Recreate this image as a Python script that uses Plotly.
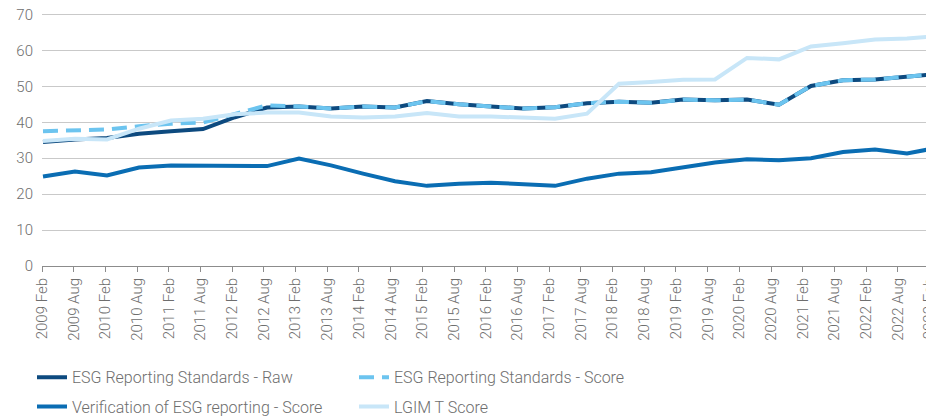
import plotly.graph_objects as go

periods = ["2009 Feb", "2009 Aug", "2010 Feb", "2010 Aug", "2011 Feb", "2011 Aug",
           "2012 Feb", "2012 Aug", "2013 Feb", "2013 Aug", "2014 Feb", "2014 Aug",
           "2015 Feb", "2015 Aug", "2016 Feb", "2016 Aug", "2017 Feb", "2017 Aug",
           "2018 Feb", "2018 Aug", "2019 Feb", "2019 Aug", "2020 Feb", "2020 Aug",
           "2021 Feb", "2021 Aug", "2022 Feb", "2022 Aug", "2023 Feb"]

esg_raw = [34.5, 35.2, 35.6, 36.8, 37.5, 38.1, 41.4, 44.1, 44.4, 43.8, 44.4, 44.1,
           45.9, 45.0, 44.4, 43.8, 44.2, 45.3, 45.7, 45.4, 46.3, 46.1, 46.3, 44.9,
           50.1, 51.7, 51.9, 52.6, 53.5]

esg_score = [37.5, 37.7, 38.0, 38.9, 39.6, 39.9, 42.4, 44.7, 44.4, 43.8, 44.4, 44.1,
             45.9, 45.0, 44.4, 43.8, 44.2, 45.3, 45.7, 45.4, 46.3, 46.1, 46.3, 44.9,
             50.1, 51.7, 51.9, 52.6, 53.5]

verification = [24.9, 26.3, 25.2, 27.4, 28.0, 28.0, 28.0, 27.8, 29.9, 28.0, 25.7, 23.6,
                22.3, 22.9, 23.2, 22.8, 22.3, 24.3, 25.7, 26.1, 27.5, 28.8, 29.7, 29.4,
                30.0, 31.7, 32.4, 31.3, 33.0]

lgim_t = [34.8, 35.4, 35.2, 38.2, 40.5, 41.0, 42.2, 42.7, 42.7, 41.6, 41.3, 41.6,
          42.6, 41.6, 41.6, 41.3, 41.0, 42.4, 50.7, 51.2, 51.8, 51.9, 57.9, 57.5,
          61.1, 62.0, 63.0, 63.3, 64.0]

y_ticks = [0, 10, 20, 30, 40, 50, 60, 70]

FONT = "Roboto"
GREY = "#6e6e6e"

# The page body adds an 8px margin, so the figure is sized to fill the rest.
W, H = 926, 408

fig = go.Figure()

# Tick-label carrier (no visible mark)
fig.add_trace(go.Scatter(x=periods, y=[None] * len(periods), xaxis="x2", mode="lines",
                         showlegend=False, hoverinfo="skip"))

fig.add_trace(go.Scatter(x=periods, y=verification, name="Verification of ESG reporting - Score",
                         mode="lines", line=dict(color="#0a6db3", width=4), legend="legend2"))
fig.add_trace(go.Scatter(x=periods, y=esg_raw, name="ESG Reporting Standards - Raw",
                         mode="lines", line=dict(color="#0d4a7f", width=4), legend="legend"))
fig.add_trace(go.Scatter(x=periods, y=esg_score, name="ESG Reporting Standards - Score",
                         mode="lines", line=dict(color="#6cc4ef", width=4, dash="15px,8px"),
                         legend="legend"))
fig.add_trace(go.Scatter(x=periods, y=lgim_t, name="LGIM T Score",
                         mode="lines", line=dict(color="#c8e6f8", width=4), legend="legend2"))

legend_common = dict(orientation="h", xref="container", yref="container",
                     xanchor="left", yanchor="middle", entrywidth=277,
                     entrywidthmode="pixels", bgcolor="rgba(0,0,0,0)",
                     font=dict(family=FONT, size=16, color=GREY, weight=300))

fig.update_layout(
    width=W, height=H,
    margin=dict(l=34, r=0, t=5, b=150, autoexpand=False),
    paper_bgcolor="white", plot_bgcolor="white",
    font=dict(family=FONT, size=15, color=GREY, weight=300),
    showlegend=True,
    legend=dict(x=24 / W, y=(H - 369.3) / H, **legend_common),
    legend2=dict(x=24 / W, y=(H - 398.7) / H, **legend_common),
    xaxis=dict(type="category", categoryarray=periods, range=[-0.031, 27.844],
               showticklabels=False, ticks="", showgrid=False, showline=False,
               zeroline=False, automargin=False),
    xaxis2=dict(type="category", categoryarray=periods, overlaying="x", anchor="y",
                side="bottom", range=[0, 28.14], tickangle=-90,
                ticks="outside", ticklen=5, tickcolor="#8c8c8c", tickwidth=1,
                showline=True, linecolor="#8c8c8c", linewidth=1,
                showgrid=False, zeroline=False, automargin=False,
                ticklabeloverflow="allow",
                tickfont=dict(family=FONT, size=15, color=GREY, weight=300)),
    yaxis=dict(range=[0, 70.4], tickvals=y_ticks, showgrid=True, gridcolor="#c9c9c9",
               gridwidth=1, zeroline=False, showline=False, ticks="",
               ticklabelstandoff=8, automargin=False, ticklabeloverflow="allow",
               tickfont=dict(family=FONT, size=15, color=GREY, weight=300)),
)

fig.write_html("out.html")
